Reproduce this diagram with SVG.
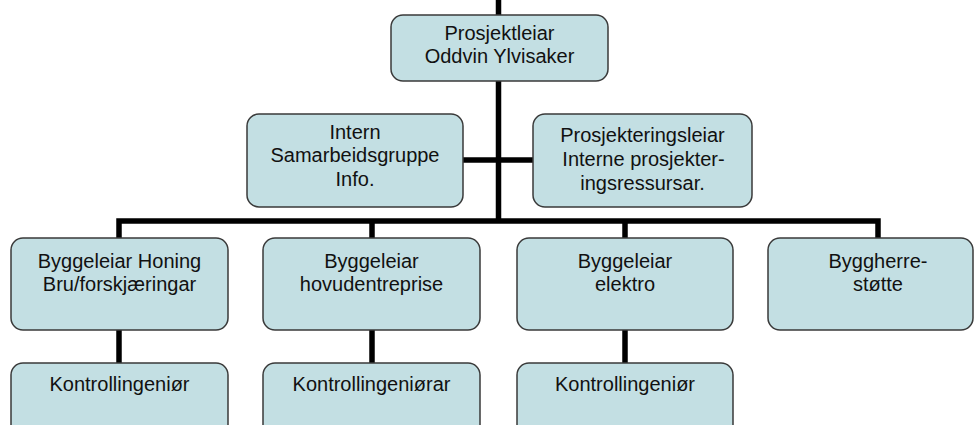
<svg xmlns="http://www.w3.org/2000/svg" width="976" height="425" viewBox="0 0 976 425">
<style>
.box{fill:#c3dfe3;stroke:#3a3a3a;stroke-width:1.5}
.t{font-family:"Liberation Sans",Arial,sans-serif;font-size:20px;fill:#111;text-anchor:middle}
.c{stroke:#000;stroke-width:5.5;fill:none}
</style>
<rect width="976" height="425" fill="#fff"/>
<g id="connectors">
<line class="c" x1="498.5" y1="0" x2="498.5" y2="221"/>
<line class="c" x1="462" y1="160" x2="534" y2="160"/>
<path class="c" d="M119,238 V221 H878 V238"/>
<line class="c" x1="372" y1="221" x2="372" y2="238"/>
<line class="c" x1="625" y1="221" x2="625" y2="238"/>
<line class="c" x1="119" y1="330" x2="119" y2="363"/>
<line class="c" x1="372" y1="330" x2="372" y2="363"/>
<line class="c" x1="625" y1="330" x2="625" y2="363"/>
</g>
<g id="n-prosjektleiar">
<rect class="box" x="391" y="15" width="217" height="66" rx="12"/>
<text class="t" x="499.5" y="39.5">Prosjektleiar</text>
<text class="t" x="499.5" y="62.5">Oddvin Ylvisaker</text>
</g>
<g id="n-intern">
<rect class="box" x="247" y="114" width="216" height="93" rx="12"/>
<text class="t" x="355" y="138.5">Intern</text>
<text class="t" x="355" y="162">Samarbeidsgruppe</text>
<text class="t" x="355" y="185.5">Info.</text>
</g>
<g id="n-prosjektering">
<rect class="box" x="533" y="114" width="219" height="93" rx="12"/>
<text class="t" x="642.5" y="141.5">Prosjekteringsleiar</text>
<text class="t" x="643.5" y="165.5">Interne prosjekter-</text>
<text class="t" x="642.5" y="189.5">ingsressursar.</text>
</g>
<g id="n-honing">
<rect class="box" x="11" y="238" width="217" height="92" rx="12"/>
<text class="t" x="119.5" y="268">Byggeleiar Honing</text>
<text class="t" x="119.5" y="291">Bru/forskjæringar</text>
</g>
<g id="n-hovud">
<rect class="box" x="263" y="238" width="217" height="92" rx="12"/>
<text class="t" x="371.5" y="268">Byggeleiar</text>
<text class="t" x="371.5" y="291">hovudentreprise</text>
</g>
<g id="n-elektro">
<rect class="box" x="517" y="238" width="216" height="92" rx="12"/>
<text class="t" x="625" y="268">Byggeleiar</text>
<text class="t" x="625" y="291">elektro</text>
</g>
<g id="n-byggherre">
<rect class="box" x="768" y="238" width="205" height="92" rx="12"/>
<text class="t" x="878" y="268">Byggherre-</text>
<text class="t" x="878" y="291">støtte</text>
</g>
<g id="n-kontroll1">
<rect class="box" x="11" y="363" width="217" height="80" rx="12"/>
<text class="t" x="119.5" y="391">Kontrollingeniør</text>
</g>
<g id="n-kontroll2">
<rect class="box" x="263" y="363" width="217" height="80" rx="12"/>
<text class="t" x="371.5" y="391">Kontrollingeniørar</text>
</g>
<g id="n-kontroll3">
<rect class="box" x="517" y="363" width="216" height="80" rx="12"/>
<text class="t" x="625" y="391">Kontrollingeniør</text>
</g>
</svg>
